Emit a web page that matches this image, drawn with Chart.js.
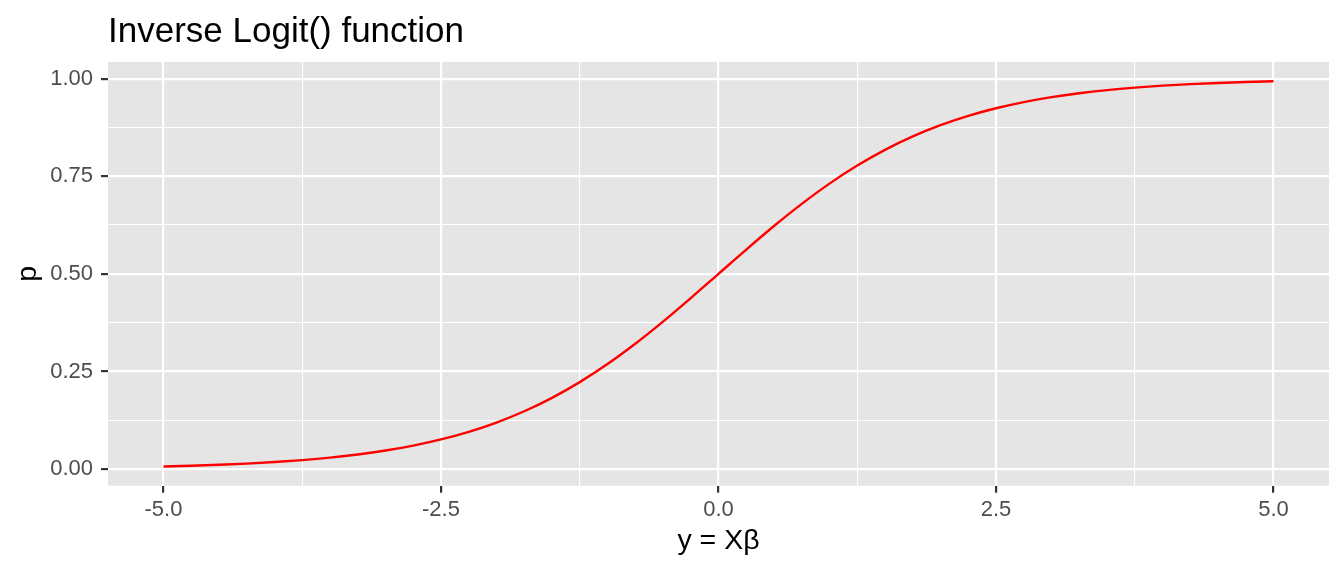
<!DOCTYPE html>
<html>
<head>
<meta charset="utf-8">
<script src="https://cdn.jsdelivr.net/npm/chart.js@4/dist/chart.umd.min.js"></script>
<style>
  html, body { margin: 0; padding: 0; background: #ffffff; }
  #wrap { width: 1344px; height: 576px; }
</style>
</head>
<body>
<div id="wrap"><canvas id="c" width="1344" height="576"></canvas></div>
<script>
// ---- data ----
const xValues = [-5, -4.75, -4.5, -4.25, -4, -3.75, -3.5, -3.25, -3, -2.75, -2.5, -2.25, -2, -1.75, -1.5, -1.25, -1, -0.75, -0.5, -0.25,
                 0, 0.25, 0.5, 0.75, 1, 1.25, 1.5, 1.75, 2, 2.25, 2.5, 2.75, 3, 3.25, 3.5, 3.75, 4, 4.25, 4.5, 4.75, 5];
const pValues = [0.0067, 0.0086, 0.0110, 0.0140, 0.0180, 0.0230, 0.0293, 0.0373, 0.0474, 0.0601, 0.0759, 0.0953, 0.1192, 0.1480, 0.1824, 0.2227, 0.2689, 0.3208, 0.3775, 0.4378,
                 0.5000, 0.5622, 0.6225, 0.6792, 0.7311, 0.7773, 0.8176, 0.8520, 0.8808, 0.9047, 0.9241, 0.9399, 0.9526, 0.9627, 0.9707, 0.9770, 0.9820, 0.9860, 0.9890, 0.9914, 0.9933];

const xMajorTicks = [-5, -2.5, 0, 2.5, 5];
const xTickLabels = ['-5.0', '-2.5', '0.0', '2.5', '5.0'];
const xMinorTicks = [-3.75, -1.25, 1.25, 3.75];
const yMajorTicks = [0, 0.25, 0.5, 0.75, 1];
const yTickLabels = ['0.00', '0.25', '0.50', '0.75', '1.00'];
const yMinorTicks = [0.125, 0.375, 0.625, 0.875];

const titleText = 'Inverse Logit() function';
const xTitle = 'y = X\u03B2';
const yTitle = 'p';

// ---- chart ----
const FONT = "'Liberation Sans', Arial, Helvetica, sans-serif";
const points = xValues.map((x, i) => ({ x: x, y: pValues[i] }));

function expandRange(vals) {
  const lo = Math.min(...vals), hi = Math.max(...vals);
  const pad = (hi - lo) * 0.05;
  return [lo - pad, hi + pad];
}
const [xMin, xMax] = expandRange(xValues);
const [yMin, yMax] = expandRange(pValues);

function tickSetter(major, minor) {
  return function (scale) {
    const all = major.concat(minor).sort((a, b) => a - b);
    scale.ticks = all.map(v => ({ value: v, major: major.includes(v) }));
  };
}
function labelFor(major, labels) {
  return function (value) {
    const i = major.findIndex(m => Math.abs(m - value) < 1e-9);
    return i >= 0 ? labels[i] : '';
  };
}
function isMajorCtx(ctx, major) {
  return ctx.tick && major.some(m => Math.abs(m - ctx.tick.value) < 1e-9);
}

const panelBg = {
  id: 'panelBg',
  beforeDraw(chart) {
    const a = chart.chartArea, c = chart.ctx;
    c.save();
    c.fillStyle = '#E5E5E5';
    c.fillRect(a.left, a.top, a.right - a.left, a.bottom - a.top);
    c.restore();
  }
};

new Chart(document.getElementById('c'), {
  type: 'line',
  data: {
    datasets: [{
      data: points,
      borderColor: '#FF0000',
      borderWidth: 2.4,
      pointRadius: 0,
      fill: false,
      cubicInterpolationMode: 'monotone'
    }]
  },
  options: {
    responsive: false,
    animation: false,
    devicePixelRatio: 1,
    layout: { padding: { left: 0, right: 15, top: 0, bottom: 0 } },
    plugins: {
      legend: { display: false },
      tooltip: { enabled: false },
      title: {
        display: true,
        text: titleText,
        align: 'start',
        fullSize: false,
        color: '#000000',
        font: { family: FONT, size: 35, weight: 'normal', lineHeight: 1.2 },
        padding: { top: 11, bottom: 9 }
      }
    },
    scales: {
      x: {
        type: 'linear',
        min: xMin,
        max: xMax,
        afterBuildTicks: tickSetter(xMajorTicks, xMinorTicks),
        afterFit(scale) { scale.height = 90.3; },
        border: { display: false },
        grid: {
          color: '#FFFFFF',
          lineWidth: ctx => isMajorCtx(ctx, xMajorTicks) ? 2.2 : 1.1,
          tickColor: ctx => isMajorCtx(ctx, xMajorTicks) ? '#333333' : 'rgba(0,0,0,0)',
          tickLength: 7,
          tickWidth: 2.2,
          drawTicks: true
        },
        ticks: {
          autoSkip: false,
          maxRotation: 0,
          minRotation: 0,
          padding: 4,
          color: '#4D4D4D',
          font: { family: FONT, size: 22 },
          callback: labelFor(xMajorTicks, xTickLabels)
        },
        title: {
          display: true,
          text: xTitle,
          color: '#000000',
          font: { family: FONT, size: 28.5 },
          padding: { top: 0, bottom: 17.6 }
        }
      },
      y: {
        type: 'linear',
        min: yMin,
        max: yMax,
        afterBuildTicks: tickSetter(yMajorTicks, yMinorTicks),
        afterFit(scale) { scale.width = 108; },
        border: { display: false },
        grid: {
          color: '#FFFFFF',
          lineWidth: ctx => isMajorCtx(ctx, yMajorTicks) ? 2.2 : 1.1,
          tickColor: ctx => isMajorCtx(ctx, yMajorTicks) ? '#333333' : 'rgba(0,0,0,0)',
          tickLength: 7,
          tickWidth: 2.2,
          drawTicks: true
        },
        ticks: {
          autoSkip: false,
          padding: 8,
          color: '#4D4D4D',
          font: { family: FONT, size: 22 },
          callback: labelFor(yMajorTicks, yTickLabels)
        },
        title: {
          display: true,
          text: yTitle,
          color: '#000000',
          font: { family: FONT, size: 28.5 },
          padding: { top: 11, bottom: 0 }
        }
      }
    }
  },
  plugins: [panelBg]
});
</script>
</body>
</html>
